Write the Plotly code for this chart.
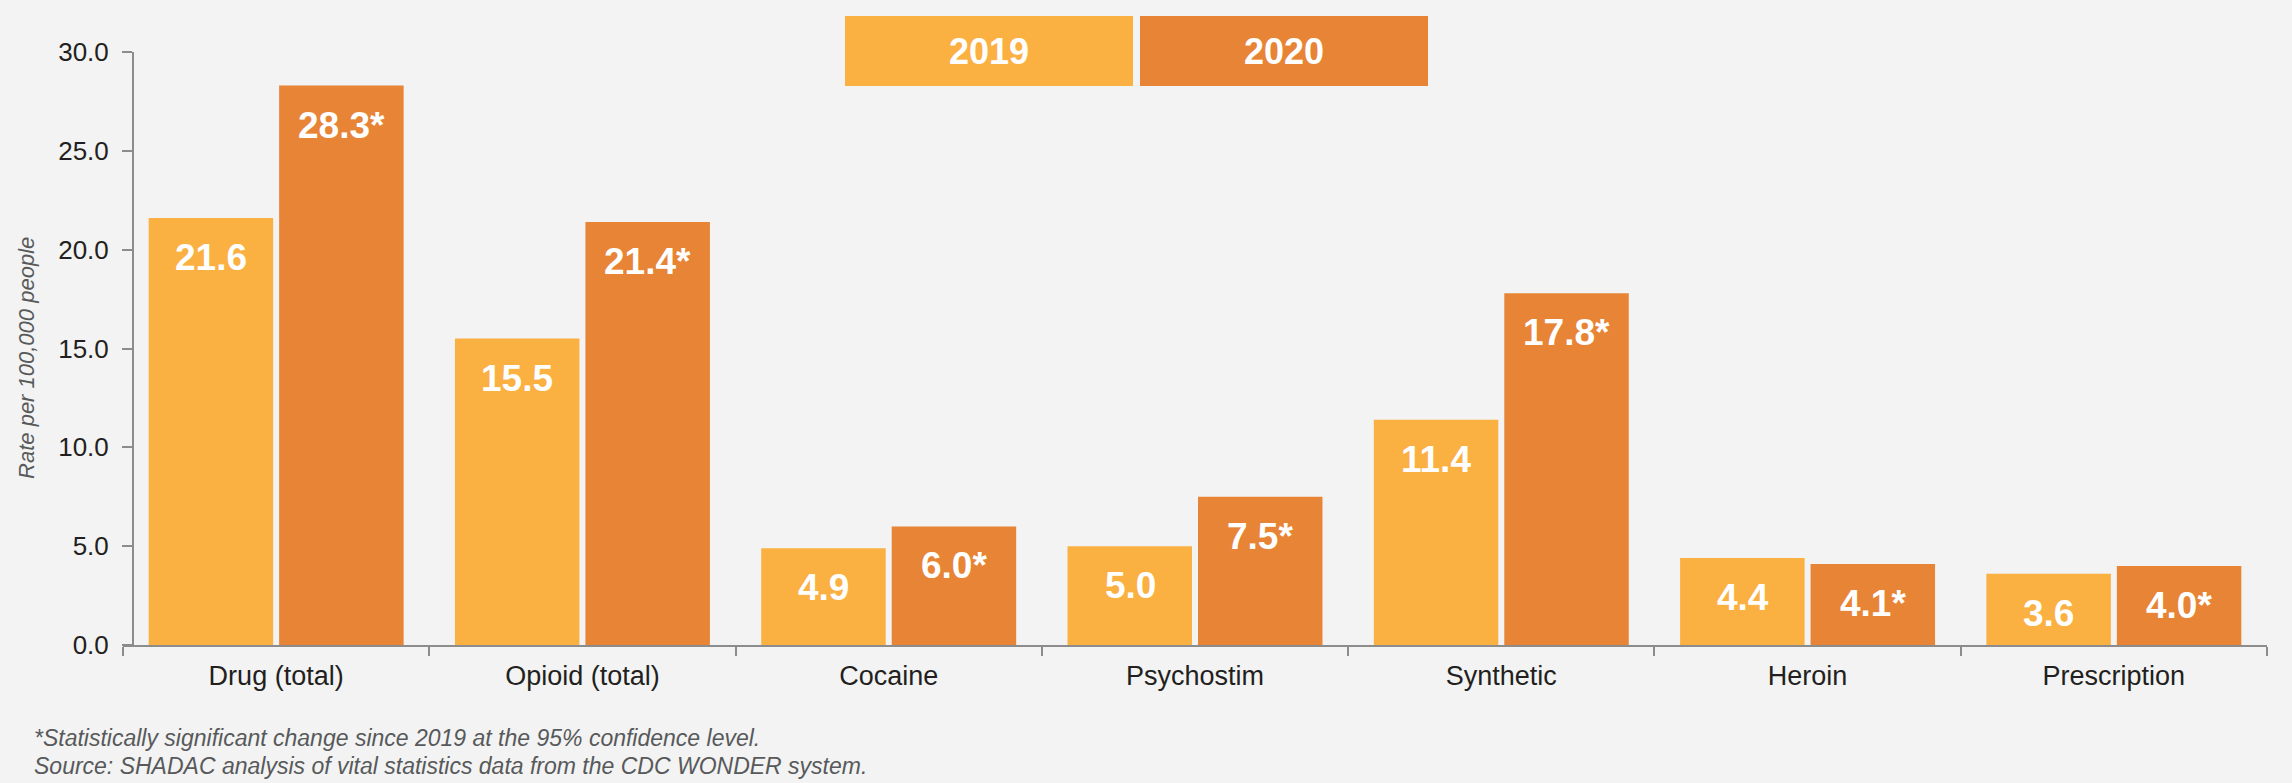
import plotly.graph_objects as go

categories = ["Drug (total)", "Opioid (total)", "Cocaine", "Psychostim", "Synthetic", "Heroin", "Prescription"]
years = ["2019", "2020"]
values_2019 = [21.6, 15.5, 4.9, 5.0, 11.4, 4.4, 3.6]
values_2020 = [28.3, 21.4, 6.0, 7.5, 17.8, 4.1, 4.0]
significant_2020 = [True, True, True, True, True, True, True]
y_ticks = [0, 5, 10, 15, 20, 25, 30]
footnotes = [
    "*Statistically significant change since 2019 at the 95% confidence level.",
    "Source: SHADAC analysis of vital statistics data from the CDC WONDER system.",
]
y_title = "Rate per 100,000 people"

C2019 = "#FBB042"
C2020 = "#E88435"
BG = "#F2F3F2"
AXIS = "#8C8C8C"
NARROW = "Liberation Sans Narrow, Liberation Sans, Arial"
BASE = "Liberation Sans, Arial"

fig = go.Figure()
fig.add_trace(go.Bar(name=years[0], x=categories, y=values_2019, marker=dict(color=C2019, line=dict(width=0)),
                     hoverinfo="x+y"))
fig.add_trace(go.Bar(name=years[1], x=categories, y=values_2020, marker=dict(color=C2020, line=dict(width=0)),
                     hoverinfo="x+y"))

annotations = []
# value labels inside the top of each bar
for cat, v in zip(categories, values_2019):
    annotations.append(dict(x=cat, y=v, xref="x", yref="y", text=f"{v:.1f}", showarrow=False,
                            xanchor="center", yanchor="top", xshift=-65, yshift=-17,
                            font=dict(family=NARROW, size=37, color="white", weight="bold")))
for cat, v, s in zip(categories, values_2020, significant_2020):
    annotations.append(dict(x=cat, y=v, xref="x", yref="y", text=f"{v:.1f}" + ("*" if s else ""),
                            showarrow=False, xanchor="center", yanchor="top", xshift=65, yshift=-17,
                            font=dict(family=NARROW, size=37, color="white", weight="bold")))

# legend boxes
for yr, col, xc in zip(years, [C2019, C2020], [0.4039, 0.5415]):
    annotations.append(dict(x=xc, y=1.0017, xref="paper", yref="paper", text=yr, showarrow=False,
                            xanchor="center", yanchor="middle", width=288, height=70, bgcolor=col,
                            borderpad=0, borderwidth=0, align="center", valign="middle",
                            font=dict(family=NARROW, size=36, color="white", weight=600)))

# y-axis title
annotations.append(dict(x=-0.0448, y=0.484, xref="paper", yref="paper", text=y_title, showarrow=False,
                        textangle=-90, xanchor="center", yanchor="middle",
                        font=dict(family=BASE, size=22, color="#58595B", style="italic")))

# footnotes
for txt, yp in zip(footnotes, [-0.157, -0.204]):
    annotations.append(dict(x=-0.0424, y=yp, xref="paper", yref="paper", text=txt, showarrow=False,
                            xanchor="left", yanchor="middle",
                            font=dict(family=BASE, size=23, color="#58595B", style="italic")))

fig.update_layout(
    width=2292, height=783,
    margin=dict(l=123, r=25, t=52, b=138, pad=0),
    paper_bgcolor=BG, plot_bgcolor=BG,
    barmode="group", bargap=0.148, bargroupgap=0.046,
    showlegend=False,
    annotations=annotations,
    xaxis=dict(type="category", range=[-0.5, 6.5], showline=True, linecolor=AXIS, linewidth=2,
               ticks="outside", tickson="boundaries", ticklen=9, tickcolor=AXIS, tickwidth=2,
               showgrid=False, zeroline=False, ticklabelstandoff=6,
               tickfont=dict(family=BASE, size=27, color="#231F20")),
    yaxis=dict(range=[0, 30], tickvals=y_ticks, tickformat=".1f", anchor="free", position=0.00466,
               showline=True, linecolor=AXIS, linewidth=2, ticks="outside", ticklen=10, tickcolor=AXIS,
               tickwidth=2, showgrid=False, zeroline=False, ticklabelstandoff=8,
               tickfont=dict(family=BASE, size=26, color="#231F20")),
)

fig.write_html("out.html", config={"displayModeBar": False},
               post_script="document.body.style.margin='0';document.body.style.overflow='hidden';")
